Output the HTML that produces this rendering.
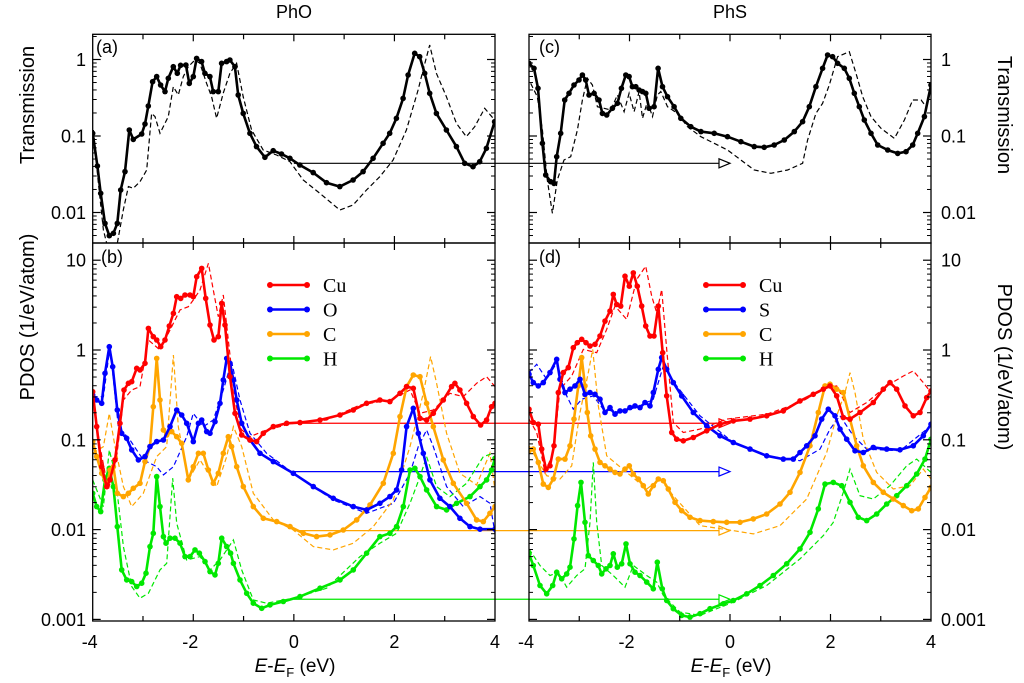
<!DOCTYPE html>
<html><head><meta charset="utf-8"><style>
html,body{margin:0;padding:0;background:#fff}
svg{display:block}
text{font-family:"Liberation Sans",sans-serif;fill:#000}
</style></head><body>
<svg id="fig" width="1024" height="683" viewBox="0 0 1024 683" xmlns="http://www.w3.org/2000/svg">
<g id="layer-arrows"></g>
<g id="layer-panels"></g>
<g id="layer-text">
<text x="294" y="18" font-size="18" text-anchor="middle">PhO</text>
<text x="730" y="18" font-size="18" text-anchor="middle">PhS</text>
<text transform="translate(34,105) rotate(-90)" font-size="20" text-anchor="middle">Transmission</text>
<text transform="translate(34,317) rotate(-90)" font-size="20" text-anchor="middle">PDOS (1/eV/atom)</text>
<text transform="translate(998,115) rotate(90)" font-size="20" text-anchor="middle">Transmission</text>
<text transform="translate(998,367) rotate(90)" font-size="20" text-anchor="middle">PDOS (1/eV/atom)</text>
<text x="295" y="672" font-size="19" text-anchor="middle"><tspan font-style="italic">E</tspan>-<tspan font-style="italic">E</tspan><tspan font-size="13" dy="5">F</tspan><tspan dy="-5"> (eV)</tspan></text>
<text x="731" y="672" font-size="19" text-anchor="middle"><tspan font-style="italic">E</tspan>-<tspan font-style="italic">E</tspan><tspan font-size="13" dy="5">F</tspan><tspan dy="-5"> (eV)</tspan></text>
</g>
</svg>
<script>
// ---- Data: energy (eV) and log10 of value ----
const xTicks = [-4,-2,0,2,4];
const transTicks = [1,0.1,0.01];
const transTickLabels = ["1","0.1","0.01"];
const pdosTicks = [10,1,0.1,0.01,0.001];
const pdosTickLabels = ["10","1","0.1","0.01","0.001"];

const aSolid = [[-4,-0.965],[-3.907,-1.392],[-3.841,-1.749],[-3.755,-2.142],[-3.669,-2.303],[-3.589,-2.272],[-3.51,-2.142],[-3.444,-1.706],[-3.358,-1.466],[-3.272,-0.922],[-3.192,-1.044],[-3.026,-0.974],[-2.96,-0.843],[-2.894,-0.608],[-2.808,-0.29],[-2.728,-0.224],[-2.649,-0.333],[-2.563,-0.42],[-2.497,-0.246],[-2.397,-0.094],[-2.318,-0.181],[-2.252,-0.076],[-2.146,-0.072],[-2.079,-0.312],[-2.0,-0.224],[-1.934,0.015],[-1.834,-0.028],[-1.768,-0.181],[-1.669,-0.224],[-1.603,-0.42],[-1.503,-0.42],[-1.437,-0.05],[-1.338,-0.028],[-1.272,-0.007],[-1.172,-0.094],[-1.106,-0.464],[-1.007,-0.704],[-0.874,-0.965],[-0.742,-1.139],[-0.576,-1.279],[-0.411,-1.192],[-0.245,-1.235],[-0.079,-1.292],[0.119,-1.379],[0.384,-1.479],[0.649,-1.61],[0.914,-1.662],[1.179,-1.575],[1.377,-1.466],[1.576,-1.292],[1.775,-1.096],[1.907,-0.965],[2.04,-0.769],[2.172,-0.508],[2.272,-0.203],[2.404,0.081],[2.503,0.037],[2.603,-0.181],[2.702,-0.442],[2.834,-0.704],[3.033,-0.922],[3.232,-1.139],[3.397,-1.357],[3.563,-1.401],[3.695,-1.336],[3.828,-1.161],[3.993,-0.813]];
const aDashed = [[-3.987,-0.922],[-3.887,-1.619],[-3.788,-2.229],[-3.656,-2.578],[-3.523,-2.447],[-3.391,-1.967],[-3.291,-1.662],[-3.192,-1.684],[-3.06,-1.597],[-2.927,-1.444],[-2.828,-0.704],[-2.762,-0.747],[-2.662,-0.965],[-2.497,-0.747],[-2.397,-0.355],[-2.298,-0.464],[-2.199,-0.224],[-2.099,-0.094],[-1.967,-0.007],[-1.868,-0.05],[-1.735,-0.312],[-1.636,-0.486],[-1.536,-0.769],[-1.404,-0.442],[-1.272,-0.181],[-1.139,-0.05],[-1.007,-0.486],[-0.841,-0.922],[-0.609,-1.183],[-0.344,-1.248],[-0.079,-1.335],[0.185,-1.575],[0.517,-1.749],[0.914,-1.967],[1.179,-1.902],[1.444,-1.706],[1.709,-1.532],[1.974,-1.314],[2.238,-0.922],[2.47,-0.399],[2.57,-0.137],[2.702,0.19],[2.834,-0.181],[3.033,-0.486],[3.232,-0.834],[3.43,-1.009],[3.596,-0.878],[3.795,-0.638],[3.993,-0.791]];
const cSolid = [[-4,-0.05],[-3.9,-0.115],[-3.821,-0.377],[-3.734,-1.096],[-3.668,-1.51],[-3.568,-1.597],[-3.502,-1.619],[-3.449,-1.27],[-3.369,-0.965],[-3.29,-0.529],[-3.203,-0.442],[-3.104,-0.333],[-3.004,-0.268],[-2.938,-0.203],[-2.871,-0.268],[-2.805,-0.464],[-2.705,-0.442],[-2.606,-0.529],[-2.539,-0.704],[-2.453,-0.725],[-2.34,-0.638],[-2.24,-0.573],[-2.161,-0.377],[-2.074,-0.203],[-2.008,-0.224],[-1.942,-0.355],[-1.875,-0.355],[-1.809,-0.399],[-1.742,-0.42],[-1.676,-0.442],[-1.61,-0.638],[-1.51,-0.617],[-1.43,-0.115],[-1.344,-0.355],[-1.244,-0.486],[-1.112,-0.617],[-0.979,-0.769],[-0.78,-0.878],[-0.58,-0.943],[-0.315,-0.965],[-0.049,-1.009],[0.216,-1.074],[0.482,-1.139],[0.681,-1.148],[0.88,-1.118],[1.08,-1.052],[1.279,-0.943],[1.445,-0.813],[1.578,-0.617],[1.71,-0.355],[1.843,-0.115],[1.943,0.059],[2.042,0.037],[2.142,-0.05],[2.275,-0.115],[2.375,-0.246],[2.474,-0.442],[2.574,-0.617],[2.673,-0.791],[2.806,-0.965],[2.939,-1.118],[3.138,-1.183],[3.337,-1.227],[3.503,-1.205],[3.636,-1.118],[3.736,-0.965],[3.869,-0.747],[4.0,-0.333]];
const cDashed = [[-3.967,-0.312],[-3.834,-0.486],[-3.734,-0.922],[-3.635,-1.575],[-3.535,-2.011],[-3.436,-1.575],[-3.303,-1.314],[-3.17,-1.27],[-3.037,-0.922],[-2.938,-0.529],[-2.838,-0.246],[-2.738,-0.333],[-2.639,-0.617],[-2.506,-0.638],[-2.373,-0.66],[-2.24,-0.464],[-2.108,-0.682],[-2.008,-0.442],[-1.908,-0.682],[-1.809,-0.42],[-1.742,-0.769],[-1.643,-0.551],[-1.543,-0.747],[-1.444,-0.464],[-1.377,-0.42],[-1.244,-0.617],[-1.045,-0.704],[-0.846,-0.878],[-0.58,-1.009],[-0.315,-1.096],[-0.049,-1.183],[0.216,-1.314],[0.482,-1.444],[0.814,-1.488],[1.146,-1.444],[1.445,-1.357],[1.544,-1.052],[1.71,-0.704],[1.843,-0.573],[1.976,-0.333],[2.142,0.037],[2.375,0.102],[2.507,-0.181],[2.64,-0.486],[2.806,-0.747],[3.005,-0.899],[3.271,-1.031],[3.47,-0.791],[3.636,-0.529],[3.802,-0.529],[3.902,-0.617],[4.0,-0.312]];

const bCuSolid = [[-4,-0.464],[-3.92,-0.853],[-3.821,-1.299],[-3.722,-1.521],[-3.655,-1.447],[-3.556,-1.224],[-3.457,-0.816],[-3.377,-0.445],[-3.291,-0.371],[-3.225,-0.353],[-3.125,-0.204],[-3.059,-0.223],[-2.96,-0.148],[-2.893,0.241],[-2.794,0.148],[-2.728,0.111],[-2.648,0.037],[-2.562,0.111],[-2.476,0.267],[-2.396,0.408],[-2.33,0.594],[-2.25,0.575],[-2.164,0.612],[-2.065,0.612],[-1.999,0.594],[-1.932,0.816],[-1.833,0.909],[-1.753,0.575],[-1.667,0.278],[-1.588,0.111],[-1.502,0.148],[-1.435,0.519],[-1.369,0.278],[-1.27,-0.297],[-1.17,-0.705],[-1.038,-0.946],[-0.872,-1.002],[-0.74,-1.02],[-0.607,-0.928],[-0.408,-0.853],[-0.143,-0.816],[0.122,-0.809],[0.52,-0.779],[0.917,-0.724],[1.182,-0.668],[1.447,-0.594],[1.712,-0.557],[1.911,-0.575],[2.11,-0.482],[2.243,-0.408],[2.375,-0.427],[2.508,-0.761],[2.64,-0.779],[2.773,-0.705],[2.972,-0.557],[3.137,-0.408],[3.203,-0.371],[3.303,-0.445],[3.435,-0.594],[3.568,-0.742],[3.714,-0.835],[3.833,-0.779],[3.932,-0.631],[4.0,-0.594]];
const bCuDashed = [[-4,-0.52],[-3.854,-1.076],[-3.689,-1.558],[-3.523,-1.187],[-3.39,-0.557],[-3.225,-0.445],[-3.059,-0.408],[-2.893,0.111],[-2.661,0],[-2.463,0.223],[-2.264,0.445],[-2.098,0.482],[-1.999,0.557],[-1.866,0.668],[-1.7,0.965],[-1.601,0.668],[-1.502,0.371],[-1.402,0.612],[-1.303,0.111],[-1.17,-0.557],[-1.038,-0.89],[-0.872,-0.965],[-0.541,-0.89],[-0.011,-0.816],[0.652,-0.779],[1.315,-0.612],[1.911,-0.557],[2.309,-0.445],[2.508,-0.705],[2.773,-0.668],[3.104,-0.482],[3.369,-0.519],[3.634,-0.371],[3.833,-0.297],[4.0,-0.408]];
const bOSolid = [[-4,-0.501],[-3.92,-0.557],[-3.821,-0.594],[-3.755,-0.26],[-3.669,0.037],[-3.602,-0.186],[-3.51,-0.668],[-3.423,-0.928],[-3.324,-0.983],[-3.225,-1.113],[-3.092,-1.224],[-2.96,-1.187],[-2.86,-1.076],[-2.728,-1.02],[-2.595,-1.002],[-2.463,-0.853],[-2.33,-0.668],[-2.231,-0.724],[-2.131,-0.816],[-1.999,-1.02],[-1.899,-0.816],[-1.833,-0.779],[-1.734,-0.909],[-1.667,-0.928],[-1.568,-0.798],[-1.469,-0.594],[-1.402,-0.334],[-1.336,-0.093],[-1.27,-0.148],[-1.203,-0.334],[-1.137,-0.557],[-1.038,-0.816],[-0.872,-1.002],[-0.673,-1.15],[-0.408,-1.243],[-0.011,-1.373],[0.387,-1.521],[0.785,-1.651],[1.182,-1.744],[1.447,-1.781],[1.712,-1.707],[1.911,-1.633],[2.044,-1.558],[2.143,-1.336],[2.243,-0.853],[2.375,-0.649],[2.474,-0.928],[2.574,-1.15],[2.706,-1.447],[2.905,-1.651],[3.104,-1.744],[3.303,-1.874],[3.502,-1.967],[3.701,-1.996],[4.0,-1.996]];
const bODashed = [[-4,-0.52],[-3.788,-0.52],[-3.655,0.037],[-3.49,-0.853],[-3.258,-1.002],[-2.993,-1.224],[-2.728,-1.299],[-2.595,-1.391],[-2.396,-1.299],[-2.131,-0.965],[-1.999,-0.705],[-1.8,-0.853],[-1.601,-0.779],[-1.402,-0.445],[-1.237,-0.13],[-1.071,-0.557],[-0.872,-0.928],[-0.541,-1.15],[-0.011,-1.373],[0.785,-1.67],[1.447,-1.818],[1.977,-1.707],[2.309,-1.373],[2.474,-1.076],[2.64,-0.891],[2.773,-1.076],[3.038,-1.521],[3.369,-1.744],[3.701,-1.633],[3.9,-1.707],[4.0,-2.041]];
const bCSolid = [[-4,-1.02],[-3.92,-1.187],[-3.821,-1.373],[-3.722,-1.521],[-3.655,-1.336],[-3.589,-1.299],[-3.51,-1.596],[-3.39,-1.633],[-3.291,-1.596],[-3.192,-1.54],[-3.059,-1.484],[-2.96,-1.243],[-2.86,-1.076],[-2.794,-0.631],[-2.728,-0.093],[-2.661,-0.557],[-2.595,-0.891],[-2.529,-0.946],[-2.429,-0.909],[-2.33,-0.965],[-2.231,-1.039],[-2.098,-1.447],[-1.999,-1.299],[-1.899,-1.15],[-1.8,-1.15],[-1.7,-1.336],[-1.601,-1.484],[-1.502,-1.373],[-1.402,-1.15],[-1.303,-0.965],[-1.237,-1.076],[-1.137,-1.299],[-1.005,-1.521],[-0.806,-1.744],[-0.607,-1.874],[-0.342,-1.911],[-0.077,-1.967],[0.188,-2.041],[0.453,-2.078],[0.718,-2.059],[0.983,-2.004],[1.249,-1.892],[1.514,-1.725],[1.779,-1.484],[1.977,-1.15],[2.11,-0.742],[2.243,-0.408],[2.375,-0.278],[2.508,-0.297],[2.64,-0.594],[2.773,-0.853],[2.972,-1.224],[3.17,-1.484],[3.435,-1.707],[3.634,-1.892],[3.767,-1.911],[3.899,-1.818],[4.0,-1.744]];
const bCDashed = [[-4,-1.15],[-3.788,-1.076],[-3.669,-0.705],[-3.556,-1.076],[-3.39,-1.521],[-3.225,-1.744],[-2.993,-1.596],[-2.728,-1.187],[-2.529,-1.076],[-2.396,-0.056],[-2.297,-0.853],[-2.098,-1.447],[-1.866,-1.224],[-1.7,-1.373],[-1.535,-1.521],[-1.336,-1.187],[-1.203,-0.853],[-1.038,-1.076],[-0.806,-1.596],[-0.408,-1.892],[-0.011,-2.004],[0.387,-2.189],[0.785,-2.226],[1.182,-2.152],[1.58,-1.967],[1.977,-1.67],[2.309,-1.076],[2.574,-0.482],[2.72,-0.074],[2.839,-0.371],[3.038,-0.928],[3.303,-1.373],[3.634,-1.503],[3.899,-1.15],[4.0,-1.558]];
const bHSolid = [[-4,-1.596],[-3.92,-1.744],[-3.841,-1.8],[-3.755,-1.447],[-3.669,-1.317],[-3.589,-1.521],[-3.51,-1.967],[-3.423,-2.449],[-3.324,-2.56],[-3.225,-2.579],[-3.125,-2.634],[-3.026,-2.597],[-2.94,-2.486],[-2.86,-2.189],[-2.794,-2.041],[-2.728,-1.41],[-2.661,-1.744],[-2.595,-2.078],[-2.542,-2.152],[-2.463,-2.096],[-2.363,-2.096],[-2.264,-2.152],[-2.164,-2.301],[-2.065,-2.301],[-1.966,-2.226],[-1.879,-2.263],[-1.767,-2.356],[-1.667,-2.468],[-1.568,-2.505],[-1.502,-2.375],[-1.435,-2.096],[-1.336,-2.189],[-1.257,-2.263],[-1.203,-2.375],[-1.071,-2.56],[-0.938,-2.709],[-0.806,-2.82],[-0.64,-2.876],[-0.474,-2.839],[-0.209,-2.801],[0.122,-2.746],[0.52,-2.653],[0.917,-2.56],[1.182,-2.449],[1.447,-2.263],[1.712,-2.078],[1.911,-2.041],[2.044,-1.967],[2.176,-1.744],[2.309,-1.336],[2.408,-1.317],[2.508,-1.41],[2.64,-1.558],[2.839,-1.744],[3.038,-1.781],[3.237,-1.707],[3.502,-1.633],[3.701,-1.521],[3.833,-1.447],[3.932,-1.336],[4.0,-1.206]];
const bHDashed = [[-4,-1.447],[-3.788,-1.744],[-3.669,-1.113],[-3.556,-1.373],[-3.39,-2.189],[-3.225,-2.634],[-3.059,-2.764],[-2.893,-2.709],[-2.661,-2.449],[-2.529,-2.375],[-2.41,-1.428],[-2.33,-1.929],[-2.131,-2.338],[-1.866,-2.301],[-1.667,-2.449],[-1.469,-2.338],[-1.203,-2.115],[-1.038,-2.449],[-0.806,-2.783],[-0.541,-2.82],[-0.011,-2.764],[0.652,-2.653],[1.315,-2.301],[1.712,-2.152],[2.044,-2.041],[2.309,-1.707],[2.508,-1.41],[2.64,-1.187],[2.839,-1.521],[3.104,-1.633],[3.435,-1.484],[3.767,-1.187],[3.966,-1.15]];

const dCuSolid = [[-4,-0.659],[-3.914,-0.807],[-3.814,-0.826],[-3.748,-1.104],[-3.662,-1.326],[-3.582,-1.289],[-3.502,-1.067],[-3.416,-0.474],[-3.317,-0.252],[-3.217,-0.196],[-3.118,0.026],[-3.038,0.081],[-2.952,0.119],[-2.866,0.081],[-2.786,0.044],[-2.687,0.063],[-2.587,0.156],[-2.488,0.322],[-2.388,0.433],[-2.322,0.619],[-2.255,0.507],[-2.176,0.489],[-2.09,0.822],[-2.003,0.711],[-1.924,0.859],[-1.844,0.711],[-1.758,0.489],[-1.678,0.267],[-1.592,0.156],[-1.512,0.156],[-1.426,0.489],[-1.34,-0.03],[-1.26,-0.511],[-1.161,-0.919],[-1.061,-0.993],[-0.929,-1.011],[-0.73,-0.974],[-0.464,-0.9],[-0.199,-0.826],[0.066,-0.789],[0.398,-0.77],[0.73,-0.733],[1.061,-0.678],[1.393,-0.567],[1.658,-0.493],[1.857,-0.437],[1.99,-0.4],[2.123,-0.511],[2.255,-0.752],[2.388,-0.77],[2.587,-0.696],[2.852,-0.585],[3.051,-0.437],[3.184,-0.363],[3.317,-0.437],[3.483,-0.622],[3.648,-0.733],[3.781,-0.696],[3.914,-0.53],[4.0,-0.456]];
const dCuDashed = [[-4,-0.77],[-3.847,-0.919],[-3.682,-1.363],[-3.516,-1.141],[-3.383,-0.437],[-3.151,-0.289],[-2.919,0.007],[-2.653,-0.03],[-2.454,0.23],[-2.289,0.489],[-2.056,0.341],[-1.857,0.785],[-1.678,0.933],[-1.559,0.6],[-1.459,0.415],[-1.36,0.674],[-1.26,0.007],[-1.128,-0.807],[-0.929,-0.919],[-0.597,-0.881],[-0.066,-0.77],[0.73,-0.715],[1.393,-0.585],[1.924,-0.419],[2.123,-0.4],[2.388,-0.696],[2.72,-0.585],[3.118,-0.4],[3.45,-0.289],[3.648,-0.233],[3.847,-0.363],[4.0,-0.474]];
const dSSolid = [[-4,-0.27],[-3.914,-0.363],[-3.814,-0.4],[-3.715,-0.363],[-3.582,-0.252],[-3.449,-0.104],[-3.383,-0.326],[-3.284,-0.474],[-3.184,-0.437],[-3.085,-0.4],[-2.985,-0.326],[-2.886,-0.493],[-2.786,-0.474],[-2.687,-0.493],[-2.587,-0.548],[-2.488,-0.696],[-2.388,-0.641],[-2.289,-0.715],[-2.189,-0.678],[-2.09,-0.678],[-1.99,-0.641],[-1.891,-0.622],[-1.791,-0.641],[-1.692,-0.585],[-1.592,-0.622],[-1.526,-0.474],[-1.426,-0.215],[-1.36,-0.085],[-1.26,-0.215],[-1.128,-0.363],[-0.962,-0.511],[-0.73,-0.696],[-0.464,-0.844],[-0.199,-0.956],[0.066,-1.03],[0.398,-1.104],[0.73,-1.178],[1.061,-1.215],[1.26,-1.215],[1.393,-1.141],[1.526,-1.067],[1.692,-0.956],[1.824,-0.77],[1.957,-0.659],[2.09,-0.733],[2.189,-0.881],[2.322,-0.993],[2.488,-1.122],[2.653,-1.141],[2.852,-1.085],[3.118,-1.104],[3.383,-1.111],[3.648,-1.067],[3.847,-0.956],[4.0,-0.826]];
const dSDashed = [[-4,-0.252],[-3.847,-0.159],[-3.648,-0.326],[-3.449,-0.141],[-3.25,-0.511],[-3.118,-0.659],[-2.952,-0.548],[-2.72,-0.511],[-2.521,-0.659],[-2.189,-0.696],[-1.791,-0.622],[-1.526,-0.548],[-1.327,-0.178],[-1.061,-0.4],[-0.597,-0.733],[0.066,-1.03],[0.73,-1.178],[1.393,-1.233],[1.791,-1.104],[1.99,-0.881],[2.189,-0.733],[2.454,-0.956],[2.72,-1.104],[3.383,-1.122],[4.0,-0.844]];
const dCSolid = [[-4,-1.122],[-3.914,-1.104],[-3.814,-1.252],[-3.715,-1.493],[-3.615,-1.53],[-3.516,-1.437],[-3.416,-1.215],[-3.284,-1.215],[-3.184,-1.067],[-3.104,-0.77],[-3.018,-0.4],[-2.952,-0.085],[-2.886,-0.4],[-2.839,-0.696],[-2.773,-0.956],[-2.687,-1.104],[-2.587,-1.252],[-2.488,-1.289],[-2.388,-1.326],[-2.289,-1.363],[-2.189,-1.381],[-2.09,-1.326],[-2.003,-1.289],[-1.924,-1.381],[-1.824,-1.437],[-1.725,-1.511],[-1.625,-1.604],[-1.526,-1.511],[-1.426,-1.437],[-1.327,-1.456],[-1.227,-1.548],[-1.095,-1.696],[-0.962,-1.789],[-0.796,-1.863],[-0.597,-1.9],[-0.332,-1.911],[-0.066,-1.919],[0.199,-1.919],[0.464,-1.881],[0.73,-1.826],[0.995,-1.715],[1.194,-1.585],[1.393,-1.363],[1.592,-1.067],[1.758,-0.696],[1.891,-0.4],[1.99,-0.381],[2.123,-0.437],[2.255,-0.474],[2.388,-0.77],[2.521,-1.067],[2.653,-1.289],[2.852,-1.474],[3.051,-1.585],[3.25,-1.659],[3.449,-1.733],[3.615,-1.789],[3.748,-1.77],[3.881,-1.641],[4.0,-1.53]];
const dCDashed = [[-4,-1.067],[-3.847,-1.215],[-3.648,-1.4],[-3.383,-1.437],[-3.151,-1.289],[-2.985,-0.696],[-2.819,-0.252],[-2.733,0.007],[-2.62,-0.622],[-2.454,-1.178],[-2.056,-1.363],[-1.658,-1.548],[-1.393,-1.437],[-1.128,-1.622],[-0.597,-1.956],[0.066,-2.011],[0.464,-2.048],[0.995,-1.956],[1.526,-1.659],[1.924,-1.141],[2.123,-0.733],[2.289,-0.474],[2.388,-0.252],[2.488,-0.474],[2.653,-0.993],[2.919,-1.363],[3.25,-1.548],[3.582,-1.511],[3.847,-1.326],[4.0,-1.437]];
const dHSolid = [[-4,-2.27],[-3.914,-2.4],[-3.781,-2.622],[-3.648,-2.715],[-3.529,-2.622],[-3.449,-2.474],[-3.35,-2.548],[-3.25,-2.493],[-3.184,-2.419],[-3.104,-2.104],[-3.032,-1.733],[-2.965,-1.474],[-2.886,-1.919],[-2.819,-2.289],[-2.72,-2.344],[-2.62,-2.4],[-2.554,-2.493],[-2.468,-2.437],[-2.388,-2.4],[-2.322,-2.27],[-2.242,-2.419],[-2.156,-2.381],[-2.07,-2.159],[-1.99,-2.381],[-1.891,-2.474],[-1.791,-2.511],[-1.658,-2.585],[-1.526,-2.659],[-1.446,-2.363],[-1.347,-2.659],[-1.26,-2.789],[-1.128,-2.881],[-0.962,-2.956],[-0.796,-2.974],[-0.597,-2.937],[-0.398,-2.881],[-0.133,-2.826],[0.066,-2.789],[0.332,-2.715],[0.597,-2.622],[0.862,-2.511],[1.128,-2.381],[1.393,-2.215],[1.592,-2.03],[1.758,-1.77],[1.891,-1.493],[2.056,-1.474],[2.222,-1.511],[2.388,-1.696],[2.554,-1.863],[2.72,-1.9],[2.919,-1.826],[3.118,-1.715],[3.317,-1.622],[3.516,-1.511],[3.715,-1.381],[3.881,-1.215],[4.0,-0.993]];
const dHDashed = [[-4,-2.215],[-3.781,-2.4],[-3.582,-2.511],[-3.416,-2.474],[-3.25,-2.641],[-3.051,-2.511],[-2.886,-2.437],[-2.786,-1.919],[-2.72,-1.252],[-2.653,-1.919],[-2.554,-2.4],[-2.322,-2.511],[-2.09,-2.641],[-1.924,-2.4],[-1.658,-2.511],[-1.459,-2.585],[-1.327,-2.733],[-0.995,-2.919],[-0.597,-2.956],[0.066,-2.807],[0.73,-2.622],[1.393,-2.326],[1.857,-2.067],[2.056,-1.919],[2.255,-1.585],[2.388,-1.326],[2.587,-1.622],[2.852,-1.659],[3.184,-1.511],[3.516,-1.289],[3.715,-1.215],[4.0,-1.363]];

// Reference arrows: log10 levels
const arrowTransLevel = -1.357;
const arrowPdosLevels = [-0.816,-1.354,-2.011,-2.776];
const legendLeftLabels = ["Cu","O","C","H"];
const legendRightLabels = ["Cu","S","C","H"];

// ---- Rendering ----
const NS = "http://www.w3.org/2000/svg";
const COL = {red:"#ff0000",blue:"#0000ff",orange:"#ffa500",green:"#00e800",black:"#000"};
const LX0=92.7, LX1=495, RX0=529, RX1=931;
const TY0=34.3, TY1=243, BY0=243, BY1=621;
function xL(e){return LX0+(e+4)*(LX1-LX0)/8;}
function xR(e){return RX0+(e+4)*(RX1-RX0)/8;}
function yT(l){return 59.5-76.5*l;}
function yB(l){return 350-89.8*l;}
function mk(tag,attrs,parent){const el=document.createElementNS(NS,tag);for(const k in attrs)el.setAttribute(k,attrs[k]);parent.appendChild(el);return el;}
const panelsLayer=document.getElementById('layer-panels');
const arrowsLayer=document.getElementById('layer-arrows');
const textLayer=document.getElementById('layer-text');

const defs=mk('defs',{},document.getElementById('fig'));
[["clipA",LX0,TY0,LX1,TY1],["clipB",LX0,BY0,LX1,BY1],["clipC",RX0,TY0,RX1,TY1],["clipD",RX0,BY0,RX1,BY1]].forEach(c=>{
  const cp=mk('clipPath',{id:c[0]},defs);
  mk('rect',{x:c[1],y:c[2],width:c[3]-c[1],height:c[4]-c[2]},cp);
});

function arrow(x0,x1,y,color,name){
  const g=mk('g',{},arrowsLayer);
  
  
  mk('line',{x1:x0,y1:y,x2:x1-11,y2:y,stroke:color,'stroke-width':1.2},g);
  mk('path',{d:`M${x1-11},${y-4.5} L${x1},${y} L${x1-11},${y+4.5} Z`,fill:'#fff',stroke:color,'stroke-width':1.2},g);
}
arrow(xL(0),xR(0),yT(arrowTransLevel),COL.black,'transmission-reference-arrow');
const arrowCols=[COL.red,COL.blue,COL.orange,COL.green];
arrowPdosLevels.forEach((l,i)=>{arrow(xL(0),xR(0),yB(l),arrowCols[i],'pdos-reference-arrow-'+i);});

function series(data,xf,yf,color,dashed,clip,name){
  const g=mk('g',{'clip-path':`url(#${clip})`},panelsLayer);
  
  
  const d=data.map((p,i)=>(i?'L':'M')+xf(p[0]).toFixed(1)+','+yf(p[1]).toFixed(1)).join(' ');
  if(dashed){
    mk('path',{d:d,fill:'none',stroke:color,'stroke-width':1.2,'stroke-dasharray':'5,3'},g);
  } else {
    mk('path',{d:d,fill:'none',stroke:color,'stroke-width':2.6,'stroke-linejoin':'round'},g);
    data.forEach(p=>{mk('circle',{cx:xf(p[0]).toFixed(1),cy:yf(p[1]).toFixed(1),r:2.8,fill:color},g);});
  }
}
series(aDashed,xL,yT,COL.black,true,'clipA','transmission-pho-dashed');
series(aSolid,xL,yT,COL.black,false,'clipA','transmission-pho-solid');
series(cDashed,xR,yT,COL.black,true,'clipC','transmission-phs-dashed');
series(cSolid,xR,yT,COL.black,false,'clipC','transmission-phs-solid');
const leftSets=[[bCuSolid,bCuDashed,COL.red,'cu'],[bOSolid,bODashed,COL.blue,'o'],[bCSolid,bCDashed,COL.orange,'c'],[bHSolid,bHDashed,COL.green,'h']];
const rightSets=[[dCuSolid,dCuDashed,COL.red,'cu'],[dSSolid,dSDashed,COL.blue,'s'],[dCSolid,dCDashed,COL.orange,'c'],[dHSolid,dHDashed,COL.green,'h']];
leftSets.forEach(s=>series(s[1],xL,yB,s[2],true,'clipB','pdos-pho-'+s[3]+'-dashed'));
rightSets.forEach(s=>series(s[1],xR,yB,s[2],true,'clipD','pdos-phs-'+s[3]+'-dashed'));
leftSets.slice().reverse().forEach(s=>series(s[0],xL,yB,s[2],false,'clipB','pdos-pho-'+s[3]+'-solid'));
rightSets.slice().reverse().forEach(s=>series(s[0],xR,yB,s[2],false,'clipD','pdos-phs-'+s[3]+'-solid'));

function frame(x0,x1,y0,y1,yf,majors,name){
  const g=mk('g',{},panelsLayer);
  
  
  mk('rect',{x:x0,y:y0,width:x1-x0,height:y1-y0,fill:'none',stroke:'#000','stroke-width':1.3},g);
  const xf=e=>x0+(e+4)*(x1-x0)/8;
  for(let e=-3;e<=3;e++){
    const L=(e%2===0)?7:5;
    mk('line',{x1:xf(e),y1:y0,x2:xf(e),y2:y0+L,stroke:'#000','stroke-width':1.2},g);
    mk('line',{x1:xf(e),y1:y1,x2:xf(e),y2:y1-L,stroke:'#000','stroke-width':1.2},g);
  }
  majors.forEach(v=>{
    const y=yf(Math.log10(v));
    mk('line',{x1:x0,y1:y,x2:x0+8,y2:y,stroke:'#000','stroke-width':1.2},g);
    mk('line',{x1:x1,y1:y,x2:x1-8,y2:y,stroke:'#000','stroke-width':1.2},g);
  });
  const lmin=Math.floor(Math.log10(majors[majors.length-1]))-1, lmax=Math.ceil(Math.log10(majors[0]))+1;
  for(let d=lmin; d<=lmax; d++){
    for(let k=2;k<=9;k++){
      const y=yf(d+Math.log10(k));
      if(y<=y0+0.5||y>=y1-0.5) continue;
      mk('line',{x1:x0,y1:y,x2:x0+4,y2:y,stroke:'#000','stroke-width':1},g);
      mk('line',{x1:x1,y1:y,x2:x1-4,y2:y,stroke:'#000','stroke-width':1},g);
    }
  }
}
frame(LX0,LX1,TY0,TY1,yT,transTicks,'panel-a-frame');
frame(LX0,LX1,BY0,BY1,yB,pdosTicks,'panel-b-frame');
frame(RX0,RX1,TY0,TY1,yT,transTicks,'panel-c-frame');
frame(RX0,RX1,BY0,BY1,yB,pdosTicks,'panel-d-frame');

function txt(s,x,y,size,anchor,name){
  const t=mk('text',{x:x,y:y,'font-size':size,'text-anchor':anchor},textLayer);
  t.textContent=s;
  
  
  return t;
}
transTicks.forEach((v,i)=>{
  const y=yT(Math.log10(v))+6.5;
  txt(transTickLabels[i],86,y,18,'end','y-tick-label-left-top');
  txt(transTickLabels[i],941,y,18,'start','y-tick-label-right-top');
});
pdosTicks.forEach((v,i)=>{
  const y=yB(Math.log10(v))+6.5;
  txt(pdosTickLabels[i],86,y,18,'end','y-tick-label-left-bottom');
  txt(pdosTickLabels[i],941,y,18,'start','y-tick-label-right-bottom');
});
xTicks.forEach(e=>{
  const lab=String(e);
  txt(lab,xL(e)-(e<0?3:0),648,18,'middle','x-tick-label-left');
  txt(lab,xR(e)-(e<0?3:0),648,18,'middle','x-tick-label-right');
});
txt('(a)',96,53,18,'start','panel-label-a');
txt('(b)',101,263,18,'start','panel-label-b');
txt('(c)',539,53,18,'start','panel-label-c');
txt('(d)',539,263,18,'start','panel-label-d');

function legend(x0,labels,panel){
  labels.forEach((lab,i)=>{
    const y=285+i*24.5;
    const g=mk('g',{},textLayer);
    
    
    mk('line',{x1:x0,y1:y,x2:x0+37,y2:y,stroke:arrowCols[i],'stroke-width':2.6},g);
    mk('circle',{cx:x0,cy:y,r:3,fill:arrowCols[i]},g);
    mk('circle',{cx:x0+37,cy:y,r:3,fill:arrowCols[i]},g);
    const t=mk('text',{x:x0+53,y:y+7,'font-size':20,style:'font-family:"Liberation Serif",serif'},g);
    t.textContent=lab;
  });
}
legend(270,legendLeftLabels,'left');
legend(706,legendRightLabels,'right');
</script>
</body></html>
